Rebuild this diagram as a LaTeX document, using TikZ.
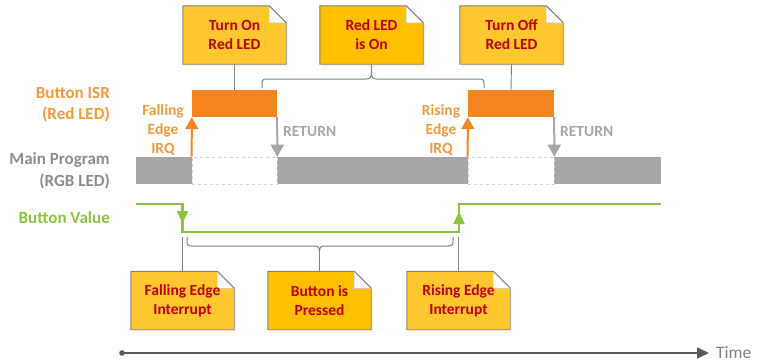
\documentclass[tikz,border=0pt]{standalone}
\usepackage{fontspec}
\setmainfont{Carlito}
\usetikzlibrary{arrows.meta,backgrounds,calc}

\definecolor{isrorange}{HTML}{F5861F}
\definecolor{isrlabel}{HTML}{F39A3C}
\definecolor{maingray}{HTML}{A6A6A6}
\definecolor{maintext}{HTML}{8C8C8C}
\definecolor{btngreen}{HTML}{8CC43F}
\definecolor{notefill}{HTML}{FFC82E}
\definecolor{notefillB}{HTML}{FFC000}
\definecolor{notetext}{HTML}{C00000}
\definecolor{linegray}{HTML}{7F7F7F}
\definecolor{axisgray}{HTML}{595959}

\tikzset{
  notelabel/.style={minimum width=103pt, minimum height=58pt, inner sep=0pt,
    align=center, text=notetext, font=\bfseries\fontsize{15.5}{19}\selectfont},
  rowlabel/.style={anchor=east, align=right, inner sep=0pt,
    font=\bfseries\fontsize{17}{21.5}\selectfont},
  irqlabel/.style={align=center, inner sep=0pt, text=isrlabel,
    font=\bfseries\fontsize{15.5}{19}\selectfont},
  retlabel/.style={anchor=west, inner sep=0pt, text=maingray,
    font=\bfseries\fontsize{15.5}{18}\selectfont},
  isrbox/.style={fill=isrorange, minimum width=85pt, minimum height=27pt, inner sep=0pt},
  gapbox/.style={fill=white, draw=gray!35, dashed, line width=0.6pt},
  connector/.style={draw=linegray, line width=0.9pt},
  bracket/.style={draw=linegray, line width=1pt},
  irqarrow/.style={draw=isrorange, line width=2pt, -{Triangle[width=13pt,length=12pt]}},
  retarrow/.style={draw=maingray, line width=2pt, -{Triangle[width=13pt,length=12pt]}},
  greenline/.style={draw=btngreen, line width=2.4pt},
  greentip/.style={draw=btngreen, line width=2.4pt, -{Triangle[width=11pt,length=12pt]}},
}

% sticky note with a folded top-right corner: name, centre, fill, text
\newcommand\stickynote[4]{%
  \node[notelabel] (#1) at (#2) {#4};
  \begin{scope}[on background layer]
    \fill[orange!30, opacity=0.35]
      ($(#1.north west)+(2,3)$) -- ($(#1.north east)+(-15,3)$) -- ($(#1.north east)+(2,20)$)
      -- ($(#1.south east)+(2,3)$) -- ($(#1.south west)+(2,3)$) -- cycle;
    \draw[draw=linegray, line width=0.9pt, fill=#3]
      (#1.north west) -- ($(#1.north east)+(-17,0)$) -- ($(#1.north east)+(0,17)$)
      -- (#1.south east) -- (#1.south west) -- cycle;
    \draw[draw=gray!45, line width=0.5pt, fill=white!96!gray]
      ($(#1.north east)+(-17,0)$) -- ($(#1.north east)+(-17,17)$) -- ($(#1.north east)+(0,17)$) -- cycle;
    \draw[draw=linegray, line width=0.9pt]
      ($(#1.north east)+(-17,0)$) -- ($(#1.north east)+(0,17)$);
  \end{scope}
}

\begin{document}
\begin{tikzpicture}[x=1pt, y=-1pt]
\useasboundingbox (0,0) rectangle (757,362);

% row labels
\node[rowlabel, text=isrlabel] (isrlab) at (110,104.5) {Button ISR\\(Red LED)};
\node[rowlabel, text=maintext] (mainlab) at (110,171) {Main Program\\(RGB LED)};
\node[rowlabel, text=btngreen] (btnlab) at (110,218) {Button Value};

% main program bar with the gaps where the ISR runs
\fill[maingray] (136,157) rectangle (661,184);
\node[gapbox, minimum width=85pt, minimum height=27pt, inner sep=0pt] (gap1) at (234.5,170.5) {};
\node[gapbox, minimum width=86pt, minimum height=27pt, inner sep=0pt] (gap2) at (511,170.5) {};

% ISR executions
\node[isrbox] (isr1) at (234.5,103.5) {};
\node[isrbox, minimum width=86pt] (isr2) at (511,103.5) {};

% interrupt entry and return arrows
\draw[irqarrow] (gap1.north west) -- (isr1.south west);
\draw[retarrow] (isr1.south east) -- (gap1.north east);
\draw[irqarrow] (gap2.north west) -- (isr2.south west);
\draw[retarrow] (isr2.south east) -- (gap2.north east);

\node[irqlabel] (irq1) at (163,130) {Falling\\Edge\\IRQ};
\node[irqlabel] (irq2) at (441,130) {Rising\\Edge\\IRQ};
\node[retlabel] (ret1) at (283,132) {RETURN};
\node[retlabel] (ret2) at (560,132) {RETURN};

% upper notes
\stickynote{noteon}{234.5,35}{notefill}{Turn On\\Red LED}
\stickynote{noteis}{371.5,35}{notefillB}{Red LED\\is On}
\stickynote{noteoff}{511.5,35}{notefill}{Turn Off\\Red LED}

\draw[connector] (noteon.south) -- (isr1.north);
\draw[connector] (noteoff.south) -- (isr2.north);

% brace spanning the time the red LED is on
\coordinate (toptip) at (371.5,72);
\draw[bracket] (262,88) -- (262,84) .. controls (262,80) and (263,79) .. (267,79)
  -- (366,79) .. controls (370,79) and (371.5,78) .. (toptip)
  .. controls (371.5,78) and (373,79) .. (377,79)
  -- (479,79) .. controls (483,79) and (484,80) .. (484,84) -- (484,88);
\draw[connector] (noteis.south) -- (toptip);

% button value waveform
\draw[greenline] (136,204) -- (182.5,204) -- (182.5,232) -- (459,232) -- (459,204) -- (661,204);
\draw[greentip] (182.5,206) -- (182.5,223);
\draw[greentip] (459,230) -- (459,212);

% lower notes
\stickynote{notefall}{182.5,300.5}{notefill}{Falling Edge\\Interrupt}
\stickynote{notepress}{319.5,300.5}{notefillB}{Button is\\Pressed}
\stickynote{noterise}{458.5,300.5}{notefill}{Rising Edge\\Interrupt}

\coordinate (fallpt) at (182.5,237);
\coordinate (risept) at (458.5,237);
\draw[connector] (fallpt) -- (notefall.north);
\draw[connector] (risept) -- (noterise.north);

% brace spanning the time the button is held down
\coordinate (lowtip) at (319.5,252);
\draw[bracket] (187,237) -- (187,241) .. controls (187,245) and (188,246) .. (192,246)
  -- (314,246) .. controls (318,246) and (319.5,247) .. (lowtip)
  .. controls (319.5,247) and (321,246) .. (325,246)
  -- (448,246) .. controls (452,246) and (453,245) .. (453,241) -- (453,237);
\draw[connector] (lowtip) -- (notepress.north);

% time axis
\coordinate (t0) at (122,353);
\fill[axisgray] (t0) circle (2.8);
\node[anchor=west, inner sep=0pt, text=linegray, font=\fontsize{17.5}{20}\selectfont] (timelab) at (716,353) {Time};
\draw[axisgray, line width=1.6pt, -{Triangle[width=11pt,length=12pt]}] (t0) -- (709,353);
\end{tikzpicture}
\end{document}
